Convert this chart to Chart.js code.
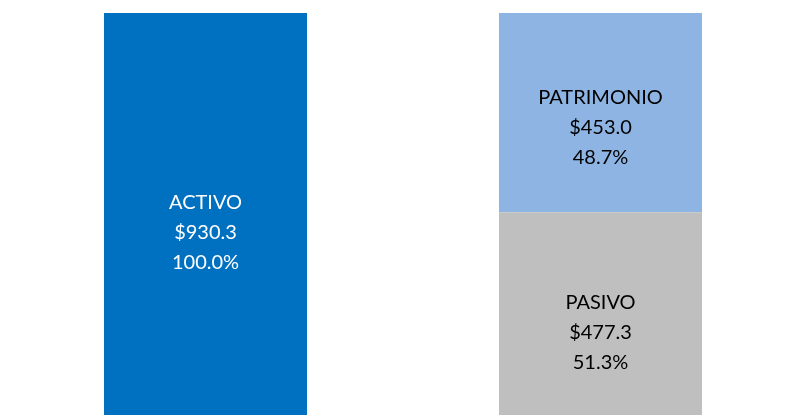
<!DOCTYPE html>
<html>
<head>
<meta charset="utf-8">
<script src="https://cdn.jsdelivr.net/npm/chart.js@4/dist/chart.umd.min.js"></script>
<style>
    html, body { margin: 0; padding: 0; background: #fff; overflow: hidden; }
    #wrap { width: 798px; height: 422px; }
</style>
</head>
<body>
<div id="wrap"><canvas id="balance-chart"></canvas></div>
<script>
// Chart data
const arrCategories = ['Activo', 'Pasivo + Patrimonio'];
const arrSeriesNames = ['ACTIVO', 'PASIVO', 'PATRIMONIO'];
const arrActivo = [930.3, null];
const arrPasivo = [null, 477.3];
const arrPatrimonio = [null, 453.0];
const arrPercents = ['100.0%', '51.3%', '48.7%'];

// Colours and label colours, one per series
const arrColors = ['#0070C0', '#BFBFBF', '#8EB4E3'];
const arrTextColors = ['#FFFFFF', '#000000', '#000000'];

/** Draws the three-line label (name, amount, percent) inside each bar segment */
const segmentLabels = {
    id: 'segmentLabels',
    afterDatasetsDraw(chart) {
        const ctx = chart.ctx;
        ctx.save();
        ctx.font = '20px Lato';
        ctx.textAlign = 'center';
        ctx.textBaseline = 'middle';
        chart.data.datasets.forEach((ds, i) => {
            const meta = chart.getDatasetMeta(i);
            meta.data.forEach((bar, j) => {
                const value = ds.data[j];
                if (value === null) return;
                const cy = (bar.y + bar.base) / 2 + 15;
                const lines = [arrSeriesNames[i], '$' + value.toFixed(1), arrPercents[i]];
                ctx.fillStyle = arrTextColors[i];
                lines.forEach((line, k) => ctx.fillText(line, bar.x, cy + (k - 1) * 30));
            });
        });
        ctx.restore();
    }
};

const arrValues = [arrActivo, arrPasivo, arrPatrimonio];

new Chart(document.getElementById('balance-chart'), {
    type: 'bar',
    data: {
        labels: arrCategories,
        datasets: arrValues.map((data, i) => ({
            label: arrSeriesNames[i],
            data: data,
            backgroundColor: arrColors[i],
            borderWidth: 0,
            barPercentage: 0.514,
            categoryPercentage: 1
        }))
    },
    options: {
        responsive: true,
        maintainAspectRatio: false,
        animation: false,
        layout: { padding: { top: 13, left: 8, right: 0, bottom: 0 } },
        plugins: {
            legend: { display: false },
            tooltip: { enabled: false }
        },
        scales: {
            x: { stacked: true, display: false },
            y: { stacked: true, display: false, min: 0, max: 930.3 }
        }
    },
    plugins: [segmentLabels]
});
</script>
</body>
</html>
